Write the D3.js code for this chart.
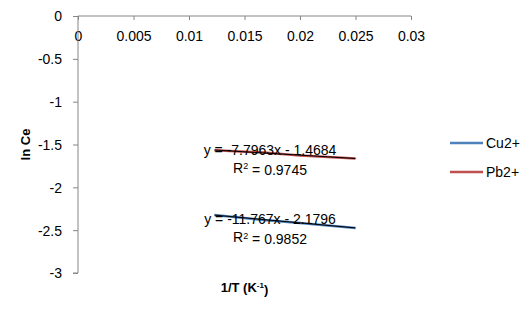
<!DOCTYPE html>
<html>
<head>
<meta charset="utf-8">
<script src="https://cdn.jsdelivr.net/npm/d3@7"></script>
<style>
  body { margin: 0; background: #fff; }
  svg text { font-family: "Liberation Sans", Arial, sans-serif; fill: #000; }
</style>
</head>
<body>
<div id="chart"></div>
<script>
// values
var xTicks = [0, 0.005, 0.01, 0.015, 0.02, 0.025, 0.03];
var yTicks = [0, -0.5, -1, -1.5, -2, -2.5, -3];
var invT = [0.0123, 0.0167, 0.02, 0.025];
var cuValues = [-2.322, -2.381, -2.415, -2.474];
var pbValues = [-1.567, -1.594, -1.627, -1.663];
var seriesNames = ["Cu2+", "Pb2+"];
var seriesColors = ["#4F81BD", "#C0504D"];
var slopes = [-11.767, -7.7963];
var intercepts = [-2.1796, -1.4684];
var equations = ["y = -11.767x - 2.1796", "y = -7.7963x - 1.4684"];
var rSquared = ["0.9852", "0.9745"];

var width = 530, height = 311;
var margin = {top: 16, right: 119, bottom: 38, left: 78};
var w = width - margin.left - margin.right;
var h = height - margin.top - margin.bottom;

var svg = d3.select("#chart").append("svg")
    .attr("width", width)
    .attr("height", height);

var g = svg.append("g")
    .attr("transform", "translate(" + margin.left + "," + margin.top + ")");

var x = d3.scaleLinear().domain([0, 0.03]).range([0, w]);
var y = d3.scaleLinear().domain([-3, 0]).range([h, 0]);

var xAxis = d3.axisBottom(x).tickValues(xTicks).tickFormat(function(d){ return String(d); }).tickSize(4).tickPadding(11);
var yAxis = d3.axisLeft(y).tickValues(yTicks).tickFormat(function(d){ return String(d); }).tickSize(5).tickPadding(11);

var gx = g.append("g").attr("class", "x-axis")
    .attr("transform", "translate(0," + y(0) + ")")
    .call(xAxis);
var gy = g.append("g").attr("class", "y-axis").call(yAxis);

[gx, gy].forEach(function(a){
    a.selectAll("path, line").attr("stroke", "#868686");
    a.selectAll("text").style("font-size", "14px");
    a.select(".domain").attr("d", a === gx ? "M0,0H" + w : "M-5," + h + "H0V0");
});
gy.selectAll("text").attr("dy", "0.35em");

var seriesData = [cuValues, pbValues];
var line = d3.line()
    .x(function(d){ return x(d[0]); })
    .y(function(d){ return y(d[1]); });

seriesData.forEach(function(vals, i){
    var pts = invT.map(function(t, j){ return [t, vals[j]]; });
    g.append("path")
        .datum(pts)
        .attr("fill", "none")
        .attr("stroke", seriesColors[i])
        .attr("stroke-width", 2.5)
        .attr("d", line);
});

// linear trendlines from the shown equations
seriesData.forEach(function(vals, i){
    var ends = d3.extent(invT).map(function(t){ return [t, slopes[i] * t + intercepts[i]]; });
    g.append("path")
        .datum(ends)
        .attr("fill", "none")
        .attr("stroke", "#000")
        .attr("stroke-width", 1)
        .attr("d", line);
});

// equation labels
var labelPos = [[0.0173, -2.375], [0.0173, -1.565]];
labelPos.forEach(function(p, i){
    var lx = x(p[0]), ly = y(p[1]);
    g.append("text")
        .attr("x", lx).attr("y", ly)
        .attr("text-anchor", "middle")
        .attr("dy", "0.35em")
        .style("font-size", "14px")
        .text(equations[i]);
    var t = g.append("text")
        .attr("x", lx).attr("y", ly + 18)
        .attr("text-anchor", "middle")
        .attr("dy", "0.35em")
        .style("font-size", "14px");
    t.append("tspan").text("R");
    t.append("tspan").attr("dy", "-0.4em").style("font-size", "9px").text("2");
    t.append("tspan").attr("dy", "0.4em").text(" = " + rSquared[i]);
});

// legend
var legend = svg.append("g").attr("transform", "translate(450,143)");
seriesNames.forEach(function(name, i){
    var row = legend.append("g").attr("transform", "translate(0," + (i * 29) + ")");
    row.append("line")
        .attr("x1", 0).attr("x2", 33)
        .attr("stroke", seriesColors[i])
        .attr("stroke-width", 2.5);
    row.append("text")
        .attr("x", 36).attr("dy", "0.35em")
        .style("font-size", "14px")
        .text(name);
});

// axis titles
var xt = svg.append("text")
    .attr("x", margin.left + w / 2).attr("y", 287)
    .attr("dy", "0.35em")
    .attr("text-anchor", "middle")
    .style("font-size", "13px")
    .style("font-weight", "bold");
xt.append("tspan").text("1/T (K");
xt.append("tspan").attr("dy", "-0.45em").style("font-size", "8px").text("-1");
xt.append("tspan").attr("dy", "0.45em").text(")");

svg.append("text")
    .attr("transform", "translate(25," + (margin.top + h / 2) + ") rotate(-90)")
    .attr("text-anchor", "middle")
    .attr("dy", "0.35em")
    .style("font-size", "13px")
    .style("font-weight", "bold")
    .text("ln Ce");
</script>
</body>
</html>
